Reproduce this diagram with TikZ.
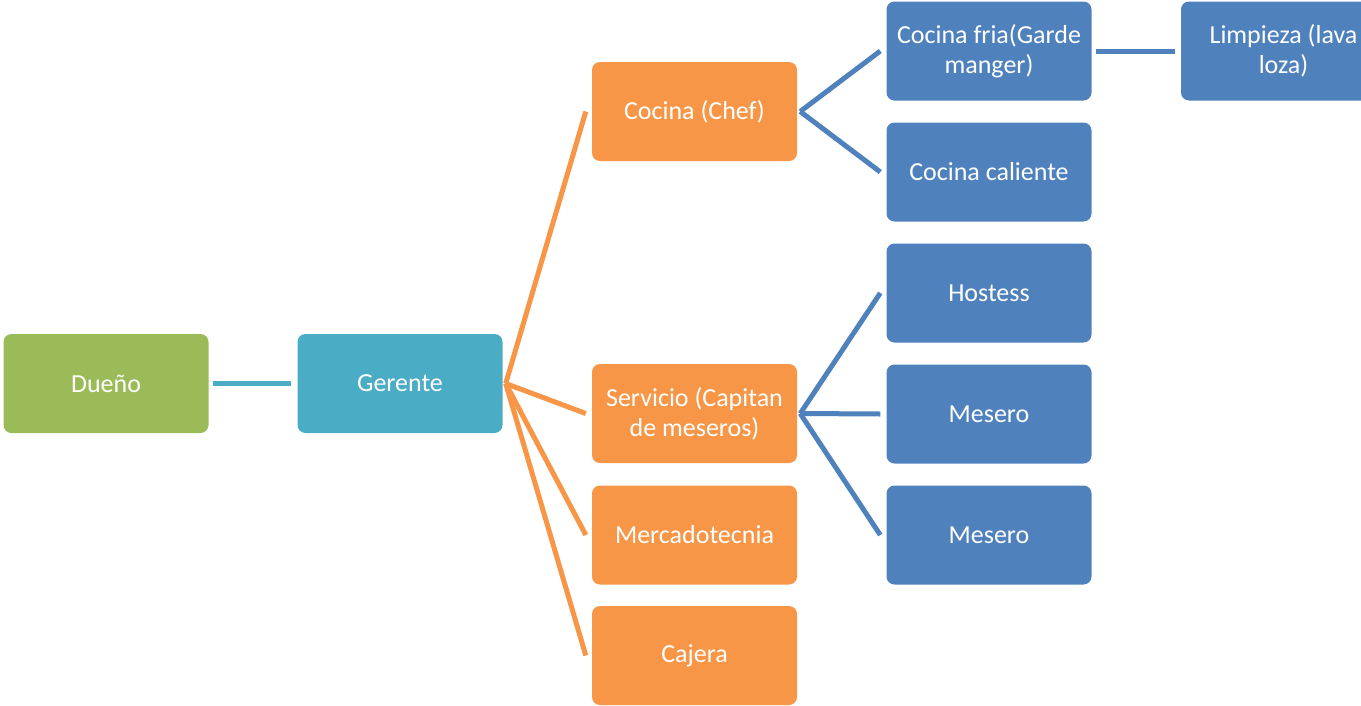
\documentclass[tikz,border=0pt]{standalone}
\usepackage{fontspec}
\setmainfont{Carlito}
\definecolor{cgreen}{HTML}{9BBB59}
\definecolor{cteal}{HTML}{4BACC6}
\definecolor{corange}{HTML}{F79646}
\definecolor{cblue}{HTML}{4F81BD}
\begin{document}
\begin{tikzpicture}[x=1pt,y=-1pt,
  box/.style={rounded corners=8pt,minimum width=205pt,minimum height=99pt,inner sep=0pt,
    align=center,text=white,font=\fontsize{26}{30}\selectfont},
  gbox/.style={box,fill=cgreen},
  tbox/.style={box,fill=cteal},
  obox/.style={box,fill=corange},
  bbox/.style={box,fill=cblue},
  conn/.style={line width=5pt},
  tline/.style={conn,draw=cteal},
  oline/.style={conn,draw=corange},
  bline/.style={conn,draw=cblue}]
\useasboundingbox (0,0) rectangle (1361,705);
\begin{scope}
\clip (0,0) rectangle (1361,705);
\node[gbox] (due) at (106,383.5) {Dueño};
\node[tbox] (ger) at (400,383.5) {Gerente};
\node[obox] (coc) at (694.5,111.5) {Cocina (Chef)};
\node[obox] (ser) at (694.5,413.5) {Servicio (Capitan\\de meseros)};
\node[obox] (mer) at (694.5,535) {Mercadotecnia};
\node[obox] (caj) at (694.5,655.5) {Cajera};
\node[bbox] (fria) at (989,51) {Cocina fria(Garde\\manger)};
\node[bbox] (cal) at (989,172) {Cocina caliente};
\node[bbox] (hos) at (989,293) {Hostess};
\node[bbox] (mes1) at (989,414) {Mesero};
\node[bbox] (mes2) at (989,535) {Mesero};
\node[bbox] (lim) at (1283.5,51) {Limpieza (lava\\loza)};
\end{scope}
\draw[tline] ([xshift=4pt]due.east) -- ([xshift=-6pt]ger.west);
\foreach \t in {coc,ser,mer,caj}
  \draw[oline] ([xshift=3pt]ger.east) -- ([xshift=-6pt]\t.west);
\foreach \t in {fria,cal}
  \draw[bline] ([xshift=3pt]coc.east) -- ([xshift=-6pt]\t.west);
\foreach \t in {hos,mes1,mes2}
  \draw[bline] ([xshift=3pt]ser.east) -- ([xshift=-6pt]\t.west);
\draw[bline] ([xshift=4pt]fria.east) -- ([xshift=-6pt]lim.west);
\end{tikzpicture}
\end{document}
